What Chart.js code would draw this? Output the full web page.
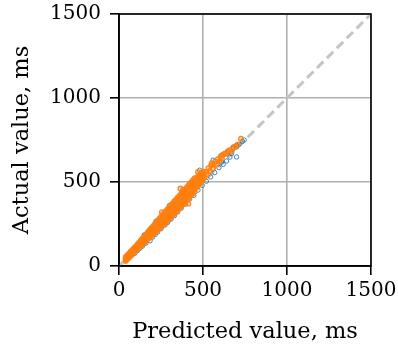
<!DOCTYPE html>
<html>
<head>
<meta charset="utf-8">
<script src="https://cdn.jsdelivr.net/npm/chart.js@4.4.1/dist/chart.umd.min.js"></script>
<style>
  html, body { margin: 0; padding: 0; background: #ffffff; }
  #wrap { width: 398px; height: 352px; position: relative; }
</style>
</head>
<body>
<div id="wrap"><canvas id="c" width="398" height="352"></canvas></div>
<script>
// ---- data ----
const xTitle = 'Predicted value, ms';
const yTitle = 'Actual value, ms';
const tickValues = [0, 500, 1000, 1500];
const identityLine = [[0, 0], [1500, 1500]];

// blue series [predicted, actual]
const bluePoints = [
  [45,36],[60,50],[75,62],[95,76],[110,92],[125,106],[140,119],[160,136],[185,150],
  [200,172],[215,188],[230,202],[250,222],[274,244],[290,260],[310,280],[330,300],
  [350,322],[370,344],[395,368],[420,398],[445,420],[470,452],[495,480],[520,505],
  [545,530],[570,556],[595,585],[620,605],[640,625],[660,648],
  [220,266],[150,185],[300,360],[380,455],[480,570],[560,630],[610,660],
  [650,679],[670,669],[680,699],[680,708],[700,718],[700,708],[700,649],[715,725],
  [735,742],[745,750],[611,619],[560,581]
];

// orange series: predicted values and the actual values seen at each
const orangePred = [
  40,50,60,70,80,90,100,110,120,130,140,150,160,170,180,190,200,210,220,230,240,
  250,260,270,280,290,300,310,320,330,340,350,360,370,380,390,400,410,420,430,440,
  450,460,470,480,490,500
];
const orangeActual = [
  [30,37,43,48,54],[41,46,52,59,65],[51,57,64,69,75],[62,67,75,80,86],[72,79,85,90,96],
  [83,88,96,101,107],[93,100,104,111,117],[103,110,117,122,129],[112,120,127,133,140],
  [121,128,138,145,153],[130,139,148,155,164],[140,148,157,167,176],[149,159,169,177,187],
  [159,168,180,189,199],[167,178,190,200,211],[177,189,201,211,223],[186,198,211,222,234],
  [196,208,222,233,246],[205,218,232,244,257],[215,228,243,255,269],[223,238,253,266,281],
  [233,248,264,277,293],[242,257,274,288,304],[252,268,285,299,316],[261,278,295,310,327],
  [271,288,306,321,339],[280,298,316,332,350],[292,309,328,344,362],[302,320,339,355,374],
  [313,331,350,366,385],[324,342,361,377,396],[334,352,372,388,408],[345,363,383,399,419],
  [356,374,394,410,430],[366,385,405,421,442],[378,397,417,433,454],[389,408,428,444,465],
  [399,419,439,456,477],[410,430,450,467,488],[421,441,461,478,499],[431,451,472,489,511],
  [442,462,483,500,522],[466,480,495,508,522],[477,491,506,519,533],[489,503,517,530,544],
  [501,514,528,541,554],[513,526,539,551,563]
];
const orangePredMid = [
  45,55,65,75,85,95,105,115,125,135,145,155,165,175,185,195,205,215,225,235,245,
  255,265,275,285,295,305,315,325,335,345,355,365,375,385,395,405,415,425,435,445,
  455,465,475,485,495
];
const orangeActualMid = [
  [44,51],[54,61],[64,72],[75,83],[85,93],[96,104],[106,115],[116,126],[126,137],
  [136,148],[146,159],[156,170],[166,181],[176,192],[186,203],[197,214],[207,225],
  [217,236],[227,247],[237,258],[247,269],[257,280],[267,291],[277,302],[288,313],
  [298,324],[309,336],[320,347],[331,358],[342,369],[353,381],[364,392],[375,403],
  [386,414],[397,426],[408,437],[419,449],[430,460],[441,471],[452,483],[463,494],
  [474,506],[485,517],[496,529],[507,540],[518,552]
];
// sparse orange points at the upper end and a few strays [predicted, actual]
const orangeExtra = [
  [505,548],[510,528],[518,560],[525,545],[532,582],[540,566],[548,598],[552,612],
  [558,580],[565,606],[572,622],[580,604],[588,636],[596,620],[604,650],[612,640],
  [620,662],[631,670],[637,668],[648,684],[658,690],[668,680],[680,705],[692,712],
  [705,722],[726,758],
  [365,461],[413,371],[255,320],[470,560]
];

const toXY = arr => arr.map(p => ({ x: p[0], y: p[1] }));
const orangeXY = [];
orangePred.forEach((p, i) => orangeActual[i].forEach(a => orangeXY.push({ x: p, y: a })));
orangePredMid.forEach((p, i) => orangeActualMid[i].forEach(a => orangeXY.push({ x: p, y: a })));
toXY(orangeExtra).forEach(pt => orangeXY.push(pt));

const serif = '"DejaVu Serif", "Liberation Serif", serif';

const framePlugin = {
  id: 'frame',
  afterDraw(chart) {
    const a = chart.chartArea;
    const ctx = chart.ctx;
    ctx.save();
    ctx.strokeStyle = '#000000';
    ctx.lineWidth = 1.6;
    ctx.strokeRect(a.left, a.top, a.right - a.left, a.bottom - a.top);
    ctx.restore();
  }
};

new Chart(document.getElementById('c'), {
  type: 'scatter',
  data: {
    datasets: [
      {
        label: 'orange',
        data: orangeXY,
        borderColor: 'rgba(255,127,14,0.9)',
        backgroundColor: 'rgba(255,127,14,0.35)',
        pointRadius: 2.3,
        pointBorderWidth: 1.3,
        order: 0
      },
      {
        label: 'blue',
        data: toXY(bluePoints),
        borderColor: 'rgba(31,119,180,0.85)',
        backgroundColor: 'rgba(31,119,180,0)',
        pointRadius: 2.2,
        pointBorderWidth: 1,
        order: 1
      },
      {
        label: 'identity',
        data: toXY(identityLine),
        showLine: true,
        borderColor: '#c4c4c4',
        borderWidth: 3,
        borderDash: [9, 5],
        pointRadius: 0,
        order: 2
      }
    ]
  },
  options: {
    responsive: false,
    animation: false,
    devicePixelRatio: 1,
    layout: { padding: { left: 0, top: 14, right: 27, bottom: 0 } },
    plugins: {
      legend: { display: false },
      tooltip: { enabled: false }
    },
    scales: {
      x: {
        type: 'linear',
        min: 0, max: 1500,
        afterBuildTicks(scale) { scale.ticks = tickValues.map(v => ({ value: v })); },
        afterFit(scale) { scale.height = 86; scale.paddingLeft = 0; scale.paddingRight = 0; },
        border: { color: '#000000', width: 1.6 },
        grid: { color: '#b0b0b0', lineWidth: 1.6, tickColor: '#000000', tickWidth: 1.6, tickLength: 9 },
        ticks: {
          color: '#000000', padding: 4, maxRotation: 0,
          font: { family: serif, size: 20 },
          callback: v => String(v)
        },
        title: {
          display: true, text: xTitle, color: '#000000',
          font: { family: serif, size: 22.5 },
          padding: { top: 0, bottom: 6 }
        }
      },
      y: {
        type: 'linear',
        min: 0, max: 1500,
        afterBuildTicks(scale) { scale.ticks = tickValues.map(v => ({ value: v })); },
        afterFit(scale) { scale.width = 119; scale.paddingTop = 0; scale.paddingBottom = 0; },
        border: { color: '#000000', width: 1.6 },
        grid: { color: '#b0b0b0', lineWidth: 1.6, tickColor: '#000000', tickWidth: 1.6, tickLength: 9 },
        ticks: {
          color: '#000000', padding: 9,
          font: { family: serif, size: 20 },
          callback: v => String(v)
        },
        title: {
          display: true, text: yTitle, color: '#000000',
          font: { family: serif, size: 22.5 },
          padding: { top: 9, bottom: 0 }
        }
      }
    }
  },
  plugins: [framePlugin]
});
</script>
</body>
</html>
